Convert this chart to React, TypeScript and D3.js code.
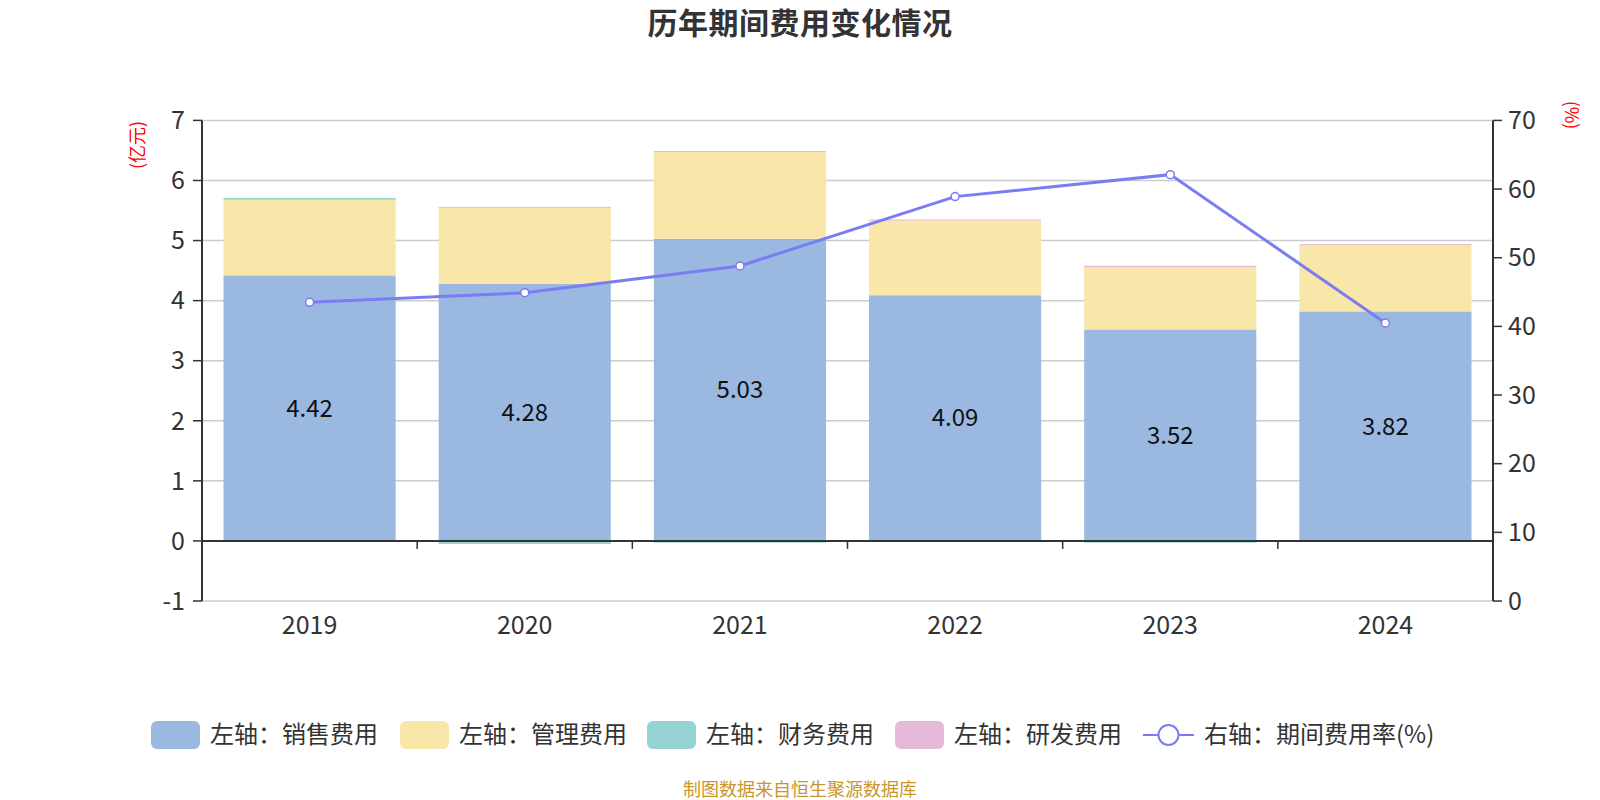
import { useEffect, useRef } from "react";
import * as d3 from "d3";

const years = ["2019", "2020", "2021", "2022", "2023", "2024"];
const sales = [4.42, 4.28, 5.03, 4.09, 3.52, 3.82];
const admin = [1.26, 1.27, 1.45, 1.25, 1.04, 1.1];
const finance = [0.03, -0.05, -0.03, 0.0, -0.03, 0.0];
const rnd = [0.0, 0.01, 0.01, 0.01, 0.02, 0.02];
const ratio = [43.5, 44.9, 48.8, 58.9, 62.1, 40.5];
const leftTicks = [-1, 0, 1, 2, 3, 4, 5, 6, 7];
const rightTicks = [0, 10, 20, 30, 40, 50, 60, 70];

const seriesNames = ["左轴：销售费用", "左轴：管理费用", "左轴：财务费用", "左轴：研发费用"];
const colors = ["#9bb8e1", "#f8e7a9", "#96d3d3", "#e6b9d8"];
const lineColor = "#7a7df2";
const FONT = "'Noto Sans CJK SC', 'Noto Sans', sans-serif";

const W = 1600;
const H = 800;
const margin = { top: 120.4, right: 107, bottom: 199, left: 202 };

export default function App() {
  const ref = useRef<SVGSVGElement>(null);

  useEffect(() => {
    const svg = d3.select(ref.current);
    svg.selectAll("*").remove();

    const x = d3
      .scaleBand()
      .domain(years)
      .range([margin.left, W - margin.right])
      .paddingInner(0.2)
      .paddingOuter(0.1);
    const y = d3.scaleLinear().domain([-1, 7]).range([H - margin.bottom, margin.top]);
    const y2 = d3.scaleLinear().domain([0, 70]).range([H - margin.bottom, margin.top]);
    const x0 = margin.left;
    const x1 = W - margin.right;

    // title
    svg
      .append("text")
      .attr("x", W / 2)
      .attr("y", 34)
      .attr("text-anchor", "middle")
      .attr("font-size", 30)
      .attr("font-weight", "bold")
      .attr("letter-spacing", 0.5)
      .attr("fill", "#333")
      .text("历年期间费用变化情况");

    // grid
    svg
      .append("g")
      .selectAll("line")
      .data(leftTicks.filter((t) => t !== 0))
      .join("line")
      .attr("x1", x0)
      .attr("x2", x1)
      .attr("y1", (d) => y(d))
      .attr("y2", (d) => y(d))
      .attr("stroke", "#ccc")
      .attr("stroke-width", 1.5);

    // stacked bars (positive and negative stacked separately)
    const stacks = [sales, admin, finance, rnd];
    const g = svg.append("g");
    years.forEach((yr, i) => {
      let pos = 0;
      let neg = 0;
      stacks.forEach((arr, k) => {
        const v = arr[i];
        if (v === 0) return;
        let a: number, b: number;
        if (v > 0) {
          a = pos;
          b = pos + v;
          pos = b;
        } else {
          a = neg + v;
          b = neg;
          neg = a;
        }
        g.append("rect")
          .attr("x", x(yr)!)
          .attr("width", x.bandwidth())
          .attr("y", y(b))
          .attr("height", Math.max(1, y(a) - y(b)))
          .attr("fill", colors[k]);
      });
    });

    // value labels
    svg
      .append("g")
      .selectAll("text")
      .data(years)
      .join("text")
      .attr("x", (d) => x(d)! + x.bandwidth() / 2)
      .attr("y", (d, i) => (y(0) + y(sales[i])) / 2)
      .attr("dy", "0.35em")
      .attr("text-anchor", "middle")
      .attr("font-size", 24)
      .attr("fill", "#111")
      .text((d, i) => sales[i].toFixed(2));

    // x axis at zero
    const xa = svg.append("g");
    xa.append("line")
      .attr("x1", x0)
      .attr("x2", x1)
      .attr("y1", y(0))
      .attr("y2", y(0))
      .attr("stroke", "#333")
      .attr("stroke-width", 2);
    xa.selectAll("line.tk")
      .data(years.slice(1))
      .join("line")
      .attr("class", "tk")
      .attr("x1", (d) => x(d)! - (x.step() * x.paddingInner()) / 2)
      .attr("x2", (d) => x(d)! - (x.step() * x.paddingInner()) / 2)
      .attr("y1", y(0))
      .attr("y2", y(0) + 8)
      .attr("stroke", "#333")
      .attr("stroke-width", 1.5);
    svg
      .append("g")
      .selectAll("text")
      .data(years)
      .join("text")
      .attr("x", (d) => x(d)! + x.bandwidth() / 2)
      .attr("y", H - margin.bottom + 24)
      .attr("dy", "0.35em")
      .attr("text-anchor", "middle")
      .attr("font-size", 25)
      .attr("fill", "#333")
      .text((d) => d);

    // left axis
    const la = svg.append("g");
    la.append("line")
      .attr("x1", x0)
      .attr("x2", x0)
      .attr("y1", y(7))
      .attr("y2", y(-1))
      .attr("stroke", "#333")
      .attr("stroke-width", 2);
    la.selectAll("line.tk")
      .data(leftTicks)
      .join("line")
      .attr("class", "tk")
      .attr("x1", x0 - 9)
      .attr("x2", x0)
      .attr("y1", (d) => y(d))
      .attr("y2", (d) => y(d))
      .attr("stroke", "#333")
      .attr("stroke-width", 1.5);
    la.selectAll("text")
      .data(leftTicks)
      .join("text")
      .attr("x", x0 - 17)
      .attr("y", (d) => y(d))
      .attr("dy", "0.35em")
      .attr("text-anchor", "end")
      .attr("font-size", 25)
      .attr("fill", "#333")
      .text((d) => d);
    la.append("text")
      .attr("transform", `translate(138,145) rotate(-90)`)
      .attr("text-anchor", "middle")
      .attr("dy", "0.35em")
      .attr("font-size", 18)
      .attr("fill", "#f00")
      .text("(亿元)");

    // right axis
    const ra = svg.append("g");
    ra.append("line")
      .attr("x1", x1)
      .attr("x2", x1)
      .attr("y1", y2(70))
      .attr("y2", y2(0))
      .attr("stroke", "#333")
      .attr("stroke-width", 2);
    ra.selectAll("line.tk")
      .data(rightTicks)
      .join("line")
      .attr("class", "tk")
      .attr("x1", x1)
      .attr("x2", x1 + 9)
      .attr("y1", (d) => y2(d))
      .attr("y2", (d) => y2(d))
      .attr("stroke", "#333")
      .attr("stroke-width", 1.5);
    ra.selectAll("text")
      .data(rightTicks)
      .join("text")
      .attr("x", x1 + 15)
      .attr("y", (d) => y2(d))
      .attr("dy", "0.35em")
      .attr("text-anchor", "start")
      .attr("font-size", 25)
      .attr("fill", "#333")
      .text((d) => d);
    ra.append("text")
      .attr("transform", `translate(1571,115) rotate(90)`)
      .attr("text-anchor", "middle")
      .attr("dy", "0.35em")
      .attr("font-size", 18)
      .attr("fill", "#f00")
      .text("(%)");

    // ratio line
    const line = d3
      .line<number>()
      .x((d, i) => x(years[i])! + x.bandwidth() / 2)
      .y((d) => y2(d));
    svg
      .append("path")
      .datum(ratio)
      .attr("d", line)
      .attr("fill", "none")
      .attr("stroke", lineColor)
      .attr("stroke-width", 3);
    svg
      .append("g")
      .selectAll("circle")
      .data(ratio)
      .join("circle")
      .attr("cx", (d, i) => x(years[i])! + x.bandwidth() / 2)
      .attr("cy", (d) => y2(d))
      .attr("r", 4)
      .attr("fill", "#fff")
      .attr("stroke", lineColor)
      .attr("stroke-width", 1.5);

    // legend
    const lg = svg.append("g").attr("font-size", 24).attr("fill", "#333");
    const ly = 735;
    const swX = [151, 400, 647, 895];
    seriesNames.forEach((name, k) => {
      lg.append("rect")
        .attr("x", swX[k])
        .attr("y", ly - 14)
        .attr("width", 49)
        .attr("height", 28)
        .attr("rx", 6)
        .attr("fill", colors[k]);
      lg.append("text")
        .attr("x", swX[k] + 59)
        .attr("y", ly)
        .attr("dy", "0.35em")
        .text(name);
    });
    lg.append("line")
      .attr("x1", 1143)
      .attr("x2", 1194)
      .attr("y1", ly)
      .attr("y2", ly)
      .attr("stroke", lineColor)
      .attr("stroke-width", 2);
    lg.append("circle")
      .attr("cx", 1168.5)
      .attr("cy", ly)
      .attr("r", 10)
      .attr("fill", "#fff")
      .attr("stroke", lineColor)
      .attr("stroke-width", 2);
    lg.append("text")
      .attr("x", 1204)
      .attr("y", ly)
      .attr("dy", "0.35em")
      .text("右轴：期间费用率(%)");

    // footer
    svg
      .append("text")
      .attr("x", W / 2)
      .attr("y", 790)
      .attr("dy", "0.35em")
      .attr("text-anchor", "middle")
      .attr("font-size", 18)
      .attr("fill", "#c8962a")
      .text("制图数据来自恒生聚源数据库");
  }, []);

  return (
    <svg
      ref={ref}
      width={W}
      height={H}
      style={{ position: "absolute", left: 0, top: 0, fontFamily: FONT, background: "#fff" }}
    />
  );
}
